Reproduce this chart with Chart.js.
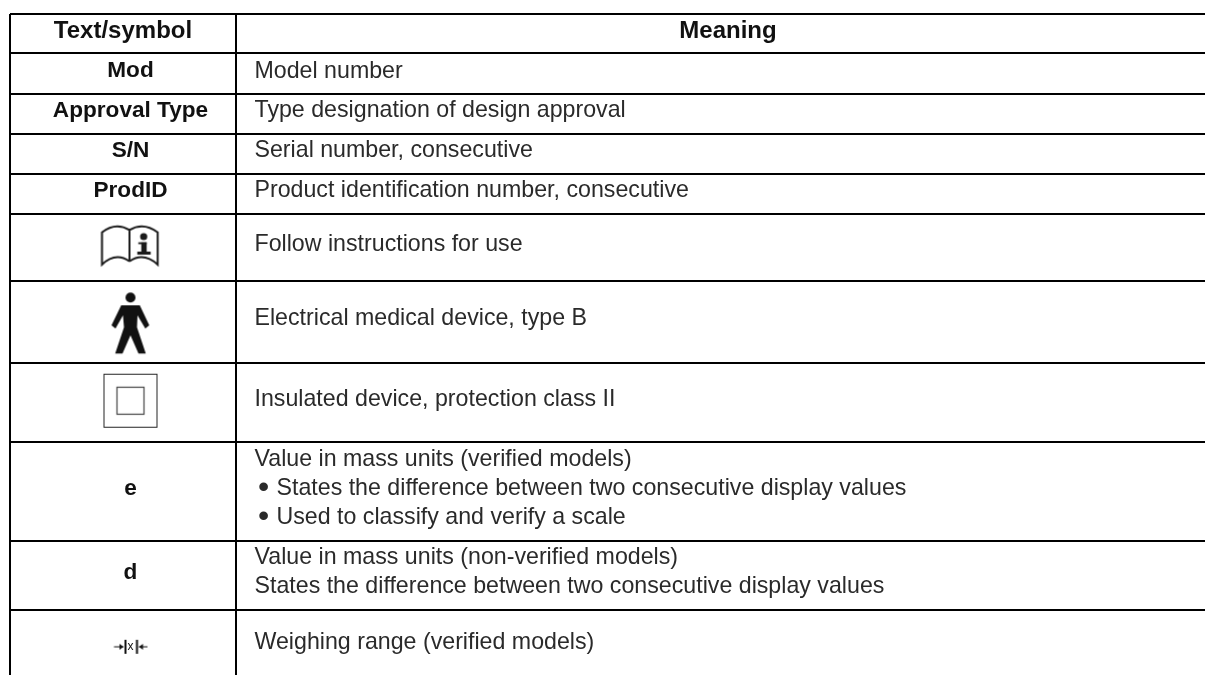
<!DOCTYPE html>
<html>
<head>
<meta charset="utf-8">
<title>Text and symbols</title>
<style>
  html, body { margin: 0; padding: 0; background: #fff; overflow: hidden; }
  #wrap { width: 1205px; height: 675px; }
</style>
<script src="https://cdn.jsdelivr.net/npm/chart.js@4"></script>
</head>
<body>
<div id="wrap"><canvas id="tabela"></canvas></div>
<script>
const headers = ['Text/symbol', 'Meaning'];
const categories = ['Mod', 'Approval Type', 'S/N', 'ProdID', '', '', '', 'e', 'd', 'x'];
const meanings = [
  ['Model number'],
  ['Type designation of design approval'],
  ['Serial number, consecutive'],
  ['Product identification number, consecutive'],
  ['Follow instructions for use'],
  ['Electrical medical device, type B'],
  ['Insulated device, protection class II'],
  ['Value in mass units (verified models)', '• States the difference between two consecutive display values', '• Used to classify and verify a scale'],
  ['Value in mass units (non-verified models)', 'States the difference between two consecutive display values'],
  ['Weighing range (verified models)']
];
const symbols = [null, null, null, null, 'book', 'person', 'square', null, null, 'range'];
const columnWidths = [225.5, 969.5];
const rowHeights = [39, 41, 40, 40, 40, 67.5, 82, 79, 99, 68.5, 65.5];

const FONT = '"Liberation Sans", Arial, sans-serif';
const INK = '#2a2a2a';
// the rows are not quite centred in the original
const textNudge = [-1.5, -3.7, -3.7, -3.7, -3.3, -3.3, -2.8, -3.5, -3.7, 0];
const labelNudge = [-2.2, -2.7, -2.7, -2.7, -2, 1, -2, -2.8, -2.2, 4.5];

function cumul(list) {
  const out = [0];
  list.forEach(v => out.push(out[out.length - 1] + v));
  return out;
}
const xEdges = cumul(columnWidths);
const yEdges = cumul(rowHeights);

function novoCanvas(w, h, desenho) {
  const c = document.createElement('canvas');
  c.width = w;
  c.height = h;
  desenho(c.getContext('2d'));
  return c;
}

// little pictures for the first column, used as point styles
const pictures = {
  book: novoCanvas(62, 46, ctx => {
    ctx.translate(3, 3);
    ctx.strokeStyle = '#1a1a1a';
    ctx.fillStyle = '#1a1a1a';
    ctx.lineWidth = 2;
    ctx.beginPath();
    ctx.moveTo(27, 4.3);
    ctx.quadraticCurveTo(13, -4, -0.5, 6.7);
    ctx.lineTo(-0.5, 39);
    ctx.quadraticCurveTo(13, 26, 27, 35.7);
    ctx.moveTo(27, 4.3);
    ctx.quadraticCurveTo(41, -4, 55.2, 6.7);
    ctx.lineTo(55.2, 39);
    ctx.quadraticCurveTo(41, 26, 27, 35.7);
    ctx.moveTo(27, 4.3);
    ctx.lineTo(27, 36);
    ctx.stroke();
    ctx.beginPath();
    ctx.arc(41.2, 11, 3.6, 0, Math.PI * 2);
    ctx.fill();
    ctx.fillRect(35.8, 16.7, 8.4, 1.8);
    ctx.fillRect(38.8, 16.7, 5.4, 10.5);
    ctx.fillRect(34.8, 26, 13.4, 3);
  }),
  person: novoCanvas(42, 66, ctx => {
    ctx.translate(21, 2);
    ctx.fillStyle = '#111';
    ctx.beginPath();
    ctx.arc(0, 5.3, 5, 0, Math.PI * 2);
    ctx.fill();
    const pts = [[-9.3, 13], [9.3, 13], [18.8, 33], [14.8, 36.3], [7, 23], [6.5, 35], [15.3, 61.3], [8, 61.3], [0, 43], [-8, 61.3], [-15.3, 61.3], [-6.5, 35], [-7.5, 23], [-15, 36.3], [-19, 33]];
    ctx.beginPath();
    pts.forEach((p, i) => i ? ctx.lineTo(p[0], p[1]) : ctx.moveTo(p[0], p[1]));
    ctx.closePath();
    ctx.fill();
  }),
  square: novoCanvas(56, 56, ctx => {
    ctx.strokeStyle = '#222';
    ctx.lineWidth = 1;
    ctx.strokeRect(1.5, 1.5, 53, 53);
    ctx.strokeStyle = '#444';
    ctx.lineWidth = 1.2;
    ctx.strokeRect(14.5, 14.5, 27, 27);
  }),
  range: novoCanvas(36, 18, ctx => {
    ctx.strokeStyle = '#111';
    ctx.fillStyle = '#111';
    ctx.lineWidth = 1;
    ctx.fillRect(12, 2, 2, 14);
    ctx.fillRect(23.5, 2, 2, 14);
    ctx.beginPath();
    ctx.moveTo(1.5, 9); ctx.lineTo(11, 9);
    ctx.moveTo(26.5, 9); ctx.lineTo(35, 9);
    ctx.stroke();
    ctx.beginPath();
    ctx.moveTo(11, 9); ctx.lineTo(7, 6); ctx.lineTo(7, 12); ctx.closePath();
    ctx.moveTo(26.5, 9); ctx.lineTo(30.5, 6); ctx.lineTo(30.5, 12); ctx.closePath();
    ctx.fill();
  })
};

const rowMiddle = i => (yEdges[i + 1] + yEdges[i + 2]) / 2;
const symbolPoints = categories.map((c, i) => ({ x: 120.5, y: rowMiddle(i) + labelNudge[i] }));

// table text, placed through the chart scales
const tableText = {
  id: 'tableText',
  afterDatasetsDraw(chart) {
    const { ctx, scales: { x, y } } = chart;
    ctx.save();
    ctx.fillStyle = '#111';
    ctx.textBaseline = 'middle';
    ctx.textAlign = 'center';

    const headY = y.getPixelForValue(yEdges[1] / 2 - 2.6);
    ctx.font = 'bold 24px ' + FONT;
    ctx.fillText(headers[0], x.getPixelForValue(113), headY);
    ctx.fillText(headers[1], x.getPixelForValue(718), headY);

    categories.forEach((c, i) => {
      ctx.font = (c === 'x' ? '12px ' : 'bold 22.6px ') + FONT;
      ctx.fillStyle = '#111';
      ctx.textAlign = 'center';
      ctx.fillText(c, x.getPixelForValue(120.5), y.getPixelForValue(rowMiddle(i) + labelNudge[i]));

      const lines = meanings[i];
      ctx.font = '23.2px ' + FONT;
      ctx.fillStyle = INK;
      ctx.textAlign = 'left';
      lines.forEach((t, k) => {
        const ly = y.getPixelForValue(rowMiddle(i) + textNudge[i]) + (k - (lines.length - 1) / 2) * 29;
        let lx = x.getPixelForValue(xEdges[1] + 19);
        if (t.startsWith('• ')) {
          ctx.font = '32px ' + FONT;
          ctx.fillText('•', lx + 3.5, ly);
          ctx.font = '23.2px ' + FONT;
          lx = x.getPixelForValue(xEdges[1] + 41);
          t = t.slice(2);
        }
        ctx.fillText(t, lx, ly);
      });
    });
    ctx.restore();
  }
};

new Chart(document.getElementById('tabela'), {
  type: 'scatter',
  data: {
    datasets: [{
      label: 'Symbols',
      data: symbolPoints,
      showLine: false,
      pointRadius: symbols.map(s => (s ? 10 : 0)),
      pointStyle: symbols.map(s => (s ? pictures[s] : 'circle'))
    }]
  },
  options: {
    responsive: true,
    maintainAspectRatio: false,
    animation: false,
    events: [],
    layout: { autoPadding: false, padding: { left: 10, top: 14, right: 0, bottom: 0 } },
    plugins: { legend: { display: false }, tooltip: { enabled: false } },
    scales: {
      x: {
        type: 'linear',
        min: 0,
        max: xEdges[xEdges.length - 1],
        border: { display: false },
        ticks: { display: false },
        grid: { color: '#000', lineWidth: 2, drawTicks: false },
        afterBuildTicks: s => { s.ticks = xEdges.slice(0, 2).map(v => ({ value: v })); }
      },
      y: {
        type: 'linear',
        reverse: true,
        min: 0,
        max: yEdges[yEdges.length - 1],
        border: { display: false },
        ticks: { display: false },
        grid: { color: '#000', lineWidth: 2, drawTicks: false },
        afterBuildTicks: s => { s.ticks = yEdges.slice(0, -1).map(v => ({ value: v })); }
      }
    }
  },
  plugins: [tableText]
});
</script>
</body>
</html>
